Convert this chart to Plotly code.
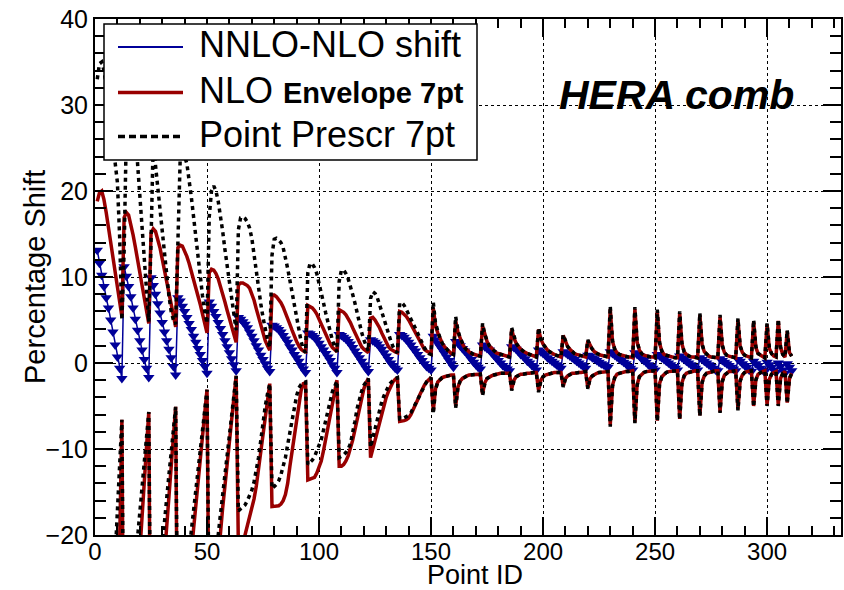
import plotly.graph_objects as go

# ---------------- data ----------------
# NNLO - NLO shift (blue, triangles), one value per point, segments = Q2 bins
nnlo_shift = [
    13.1, 11.6, 10.2, 8.9, 7.6, 6.4, 5.0, 3.6, 2.1, 0.7, -0.6, -1.8,
    11.2, 10.1, 8.9, 7.7, 6.4, 5.1, 3.8, 2.6, 1.5, 0.4, -0.6, -1.7,
    9.9, 9.0, 8.0, 6.9, 5.8, 4.7, 3.6, 2.6, 1.6, 0.6, -0.4, -1.4,
    7.6, 7.2, 6.6, 6.0, 5.3, 4.6, 3.9, 3.1, 2.4, 1.7, 1.0, 0.3, -0.4, -1.2,
    7.1, 6.6, 6.0, 5.4, 4.7, 4.0, 3.3, 2.6, 1.9, 1.2, 0.5, -0.2, -0.9,
    5.3, 5.1, 4.8, 4.5, 4.1, 3.6, 3.1, 2.6, 2.0, 1.5, 0.9, 0.4, -0.1, -0.6, -1.0,
    4.4, 4.3, 4.1, 3.9, 3.6, 3.2, 2.8, 2.4, 1.9, 1.5, 1.0, 0.6, 0.2, -0.3, -0.7, -1.1,
    3.5, 3.4, 3.2, 3.0, 2.7, 2.3, 1.9, 1.5, 1.1, 0.7, 0.3, -0.2, -0.6, -1.1,
    3.3, 3.2, 3.0, 2.8, 2.5, 2.2, 1.8, 1.4, 1.0, 0.6, 0.2, -0.2, -0.6, -1.0,
    2.7, 2.6, 2.4, 2.2, 1.9, 1.6, 1.2, 0.8, 0.4, 0.0, -0.3, -0.6, -0.8,
    3.3, 3.2, 3.0, 2.7, 2.4, 2.1, 1.7, 1.4, 1.0, 0.6, 0.3, -0.1, -0.4, -0.6, -0.8,
    3.1, 2.7, 2.3, 1.9, 1.5, 1.1, 0.7, 0.3, -0.1, -0.5,
    2.5, 2.3, 2.0, 1.7, 1.4, 1.1, 0.8, 0.4, 0.1, -0.2, -0.5, -0.7,
    2.1, 1.9, 1.7, 1.5, 1.2, 0.9, 0.6, 0.3, 0.0, -0.3, -0.5, -0.7, -0.9,
    1.9, 1.8, 1.6, 1.3, 1.0, 0.8, 0.5, 0.2, 0.0, -0.3, -0.5, -0.8,
    1.5, 1.3, 1.1, 0.9, 0.6, 0.4, 0.2, 0.0, -0.2, -0.4, -0.6,
    1.3, 1.2, 1.0, 0.8, 0.6, 0.4, 0.2, 0.0, -0.2, -0.4, -0.6,
    0.9, 0.8, 0.6, 0.5, 0.3, 0.1, -0.1, -0.2, -0.4, -0.5,
    1.3, 1.1, 0.9, 0.7, 0.5, 0.3, 0.1, -0.1, -0.4, -0.6, -0.8,
    1.2, 1.0, 0.8, 0.5, 0.3, 0.1, -0.2, -0.4, -0.6, -0.8,
    1.0, 0.8, 0.6, 0.4, 0.2, 0.0, -0.2, -0.4, -0.6, -0.8,
    0.8, 0.6, 0.4, 0.2, 0.0, -0.2, -0.4, -0.6, -0.8,
    0.6, 0.4, 0.2, 0.0, -0.2, -0.4, -0.6, -0.8, -0.9,
    0.5, 0.3, 0.1, -0.1, -0.3, -0.5, -0.7, -0.9,
    0.4, 0.2, -0.1, -0.3, -0.5, -0.8, -1.0,
    0.2, -0.1, -0.3, -0.6, -0.8, -1.0,
    0.1, -0.2, -0.5, -0.8, -1.1,
    0.0, -0.4, -0.8, -1.2,
    -0.1, -0.5, -0.9,
]

# NLO scale-variation envelope (7pt), upper and lower edges (red)
nlo_env_up = [
    18.8, 19.8, 20.0, 19.0, 17.5, 15.8, 14.0, 12.2, 10.5, 8.8, 7.1, 5.4,
    16.9, 17.5, 17.2, 16.2, 14.9, 13.5, 12.0, 10.5, 9.0, 7.5, 6.0, 4.6,
    15.1, 15.6, 15.3, 14.5, 13.4, 12.1, 10.8, 9.5, 8.1, 6.8, 5.5, 4.2,
    13.4, 13.7, 13.6, 13.1, 12.4, 11.6, 10.7, 9.8, 8.8, 7.8, 6.8, 5.7, 4.6, 3.5,
    10.5, 10.9, 10.8, 10.4, 9.8, 9.0, 8.1, 7.1, 6.1, 5.1, 4.1, 3.2, 2.4,
    9.1, 9.3, 9.3, 9.2, 9.0, 8.7, 8.1, 7.3, 6.3, 5.3, 4.3, 3.4, 2.6, 2.0, 1.5,
    7.9, 7.9, 7.7, 7.4, 7.0, 6.5, 5.9, 5.2, 4.5, 3.8, 3.1, 2.5, 2.0, 1.6, 1.4, 1.3,
    6.7, 6.6, 6.4, 6.1, 5.7, 5.1, 4.5, 3.9, 3.3, 2.7, 2.2, 1.8, 1.5, 1.3,
    6.2, 6.1, 5.9, 5.6, 5.2, 4.7, 4.1, 3.5, 2.9, 2.4, 1.9, 1.6, 1.4, 1.2,
    5.2, 5.3, 5.0, 4.6, 4.1, 3.5, 2.9, 2.4, 1.9, 1.6, 1.4, 1.3, 1.2,
    6.0, 5.9, 5.7, 5.4, 5.0, 4.5, 4.0, 3.4, 2.9, 2.4, 2.0, 1.6, 1.4, 1.2, 1.1,
    6.4, 4.3, 3.5, 2.8, 2.3, 1.9, 1.6, 1.3, 1.1, 1.0,
    4.9, 3.6, 2.8, 2.2, 1.8, 1.5, 1.3, 1.1, 1.0, 0.9, 0.8, 0.8,
    4.3, 3.2, 2.5, 2.0, 1.7, 1.4, 1.2, 1.1, 1.0, 0.9, 0.8, 0.8, 0.7,
    3.9, 2.9, 2.3, 1.9, 1.6, 1.4, 1.2, 1.1, 1.0, 0.9, 0.8, 0.7,
    3.9, 2.8, 2.2, 1.8, 1.5, 1.3, 1.1, 1.0, 0.9, 0.8, 0.7,
    3.2, 2.4, 1.9, 1.6, 1.3, 1.1, 1.0, 0.9, 0.8, 0.7, 0.7,
    2.6, 2.0, 1.6, 1.3, 1.1, 1.0, 0.9, 0.8, 0.7, 0.7,
    6.3, 2.5, 1.6, 1.2, 1.0, 0.9, 0.8, 0.8, 0.7, 0.7, 0.6,
    6.3, 2.4, 1.5, 1.1, 0.9, 0.8, 0.8, 0.7, 0.7, 0.6,
    6.0, 2.3, 1.4, 1.0, 0.9, 0.8, 0.7, 0.7, 0.6, 0.6,
    5.8, 2.2, 1.3, 1.0, 0.8, 0.7, 0.7, 0.6, 0.6,
    5.6, 2.1, 1.3, 1.0, 0.8, 0.7, 0.7, 0.6, 0.6,
    5.4, 2.0, 1.2, 0.9, 0.8, 0.7, 0.6, 0.6,
    5.0, 1.9, 1.2, 0.9, 0.8, 0.7, 0.6,
    4.8, 1.8, 1.1, 0.9, 0.7, 0.6,
    4.5, 1.7, 1.1, 0.8, 0.7,
    4.9, 1.8, 1.0, 0.7,
    3.7, 1.2, 0.8,
]

nlo_env_lo = [
    -46, -43, -40, -37, -34, -32, -30, -28, -26, -24, -21, -6.6,
    -46, -43, -40, -37, -34, -31, -27, -22, -18, -14, -9.8, -5.7,
    -44, -41, -38, -34, -30, -26, -22.5, -19, -15.5, -12, -8.5, -5.1,
    -42, -39, -35, -31.5, -28, -25, -22, -19.3, -16.5, -13.8, -11.1, -8.4, -5.8, -3.1,
    -35, -32, -29, -26, -22, -19.2, -16.8, -14.3, -11.8, -9.3, -6.8, -4.2, -1.5,
    -21.5, -21.5, -21, -20, -19.2, -18.2, -17.2, -15.8, -14.3, -12.3, -10.3, -8.3, -6.3, -4.3, -2.4,
    -16.7, -16.7, -16.7, -16.6, -16.4, -16.0, -15.3, -14.0, -12.0, -10.2, -8.3, -6.5, -4.6, -3.2, -2.4, -2.3,
    -13.6, -13.5, -13.4, -13.3, -12.8, -12.2, -11.4, -10.2, -8.9, -7.6, -6.2, -4.8, -3.5, -2.0,
    -12.0, -12.0, -11.8, -11.4, -10.8, -10.0, -9.0, -7.8, -6.5, -5.2, -4.0, -3.0, -2.3, -1.8,
    -11.0, -10.0, -9.0, -7.9, -6.8, -5.8, -4.8, -4.0, -3.3, -2.7, -2.2, -1.9, -1.7,
    -6.8, -6.8, -6.7, -6.6, -6.4, -6.0, -5.5, -4.9, -4.3, -3.7, -3.1, -2.6, -2.2, -1.9, -1.7,
    -5.6, -3.0, -2.2, -1.9, -1.7, -1.6, -1.5, -1.5, -1.4, -1.4,
    -5.0, -2.8, -2.1, -1.8, -1.6, -1.5, -1.4, -1.4, -1.3, -1.3, -1.3, -1.3,
    -3.6, -2.3, -1.8, -1.6, -1.5, -1.4, -1.3, -1.3, -1.2, -1.2, -1.2, -1.2, -1.2,
    -3.0, -2.0, -1.6, -1.4, -1.3, -1.3, -1.2, -1.2, -1.2, -1.1, -1.1, -1.1,
    -3.2, -2.0, -1.6, -1.4, -1.3, -1.2, -1.2, -1.1, -1.1, -1.1, -1.1,
    -2.7, -1.8, -1.5, -1.3, -1.2, -1.2, -1.1, -1.1, -1.1, -1.0, -1.0,
    -2.9, -1.8, -1.5, -1.3, -1.2, -1.1, -1.1, -1.0, -1.0, -1.0,
    -7.2, -2.6, -1.7, -1.3, -1.2, -1.1, -1.0, -1.0, -1.0, -0.9, -0.9,
    -6.9, -2.5, -1.6, -1.3, -1.1, -1.0, -1.0, -0.9, -0.9, -0.9,
    -6.7, -2.4, -1.6, -1.3, -1.1, -1.0, -1.0, -0.9, -0.9, -0.9,
    -6.5, -2.3, -1.5, -1.2, -1.1, -1.0, -0.9, -0.9, -0.9,
    -6.1, -2.2, -1.5, -1.2, -1.1, -1.0, -0.9, -0.9, -0.9,
    -5.7, -2.1, -1.4, -1.2, -1.0, -1.0, -0.9, -0.9,
    -5.4, -2.0, -1.4, -1.1, -1.0, -0.9, -0.9,
    -5.0, -1.9, -1.3, -1.1, -1.0, -0.9,
    -4.9, -1.9, -1.3, -1.1, -1.0,
    -4.9, -1.8, -1.2, -1.0,
    -4.6, -1.8, -1.2,
]

# Point prescription 7pt, upper and lower edges (black dotted)
pp_up = [
    33.0, 34.8, 35.0, 34.0, 32.3, 30.2, 28.0, 25.8, 23.6, 21.0, 14.7, 5.0,
    13.0, 27.0, 29.5, 29.5, 28.5, 26.5, 23.2, 19.4, 15.4, 11.4, 7.8, 4.8,
    14.0, 26.0, 23.0, 20.4, 17.6, 14.8, 12.3, 9.8, 7.8, 6.0, 5.0, 4.5,
    16.0, 23.5, 24.2, 24.0, 23.2, 21.5, 19.3, 17.0, 14.5, 12.0, 9.8, 7.8, 6.0, 4.6,
    17.0, 20.0, 20.6, 20.0, 18.8, 17.2, 15.3, 13.2, 11.2, 9.2, 7.3, 5.5, 3.8,
    15.5, 16.9, 17.0, 16.8, 16.4, 15.7, 14.5, 12.5, 10.6, 8.7, 6.9, 5.3, 3.9, 2.7, 1.8,
    12.5, 14.4, 14.5, 14.3, 14.0, 13.4, 12.3, 11.0, 9.6, 8.1, 6.6, 5.1, 3.7, 2.5, 1.6, 1.2,
    10.5, 11.6, 11.5, 11.1, 10.4, 9.4, 8.2, 7.0, 5.8, 4.6, 3.5, 2.6, 1.9, 1.3,
    9.5, 10.8, 10.8, 10.4, 9.8, 9.0, 8.0, 7.0, 5.8, 4.7, 3.6, 2.7, 1.9, 1.4,
    7.5, 8.3, 8.1, 7.6, 6.8, 5.9, 5.0, 4.2, 3.4, 2.6, 1.9, 1.4, 1.2,
    7.0, 7.0, 6.7, 6.2, 5.7, 5.2, 4.7, 4.1, 3.5, 2.9, 2.3, 1.8, 1.4, 1.1, 1.0,
    7.1, 4.6, 3.6, 2.9, 2.3, 1.9, 1.6, 1.3, 1.1, 1.0,
    5.4, 3.8, 2.9, 2.3, 1.8, 1.5, 1.3, 1.1, 1.0, 0.9, 0.8, 0.8,
    4.6, 3.3, 2.6, 2.0, 1.7, 1.4, 1.2, 1.1, 1.0, 0.9, 0.8, 0.8, 0.7,
    4.1, 3.0, 2.3, 1.9, 1.6, 1.4, 1.2, 1.1, 1.0, 0.9, 0.8, 0.7,
    4.1, 2.9, 2.2, 1.8, 1.5, 1.3, 1.1, 1.0, 0.9, 0.8, 0.7,
    3.3, 2.5, 1.9, 1.6, 1.3, 1.1, 1.0, 0.9, 0.8, 0.7, 0.7,
    2.7, 2.0, 1.6, 1.3, 1.1, 1.0, 0.9, 0.8, 0.7, 0.7,
    6.6, 2.6, 1.6, 1.2, 1.0, 0.9, 0.8, 0.8, 0.7, 0.7, 0.6,
    6.5, 2.5, 1.5, 1.1, 0.9, 0.8, 0.8, 0.7, 0.7, 0.6,
    6.2, 2.4, 1.4, 1.0, 0.9, 0.8, 0.7, 0.7, 0.6, 0.6,
    6.0, 2.3, 1.3, 1.0, 0.8, 0.7, 0.7, 0.6, 0.6,
    5.8, 2.2, 1.3, 1.0, 0.8, 0.7, 0.7, 0.6, 0.6,
    5.6, 2.1, 1.2, 0.9, 0.8, 0.7, 0.6, 0.6,
    5.2, 2.0, 1.2, 0.9, 0.8, 0.7, 0.6,
    5.0, 1.9, 1.1, 0.9, 0.7, 0.6,
    4.6, 1.8, 1.1, 0.8, 0.7,
    5.1, 1.9, 1.0, 0.7,
    3.8, 1.2, 0.8,
]

pp_lo = [
    -44, -41, -38, -35, -32, -29, -27, -25, -22.5, -17.5, -12, -6.6,
    -40, -37, -34, -30, -27, -23.5, -20.3, -17.5, -14.5, -11.5, -8.6, -5.7,
    -38, -35, -31, -27.5, -24, -21, -18.4, -15.6, -13, -10.4, -7.7, -5.1,
    -36, -33, -30, -27, -24.5, -21.9, -19.5, -17.2, -14.8, -12.5, -10.1, -7.8, -5.4, -3.1,
    -31, -28, -25.5, -22.7, -20, -17.6, -15.2, -12.8, -10.4, -8.1, -5.8, -3.6, -1.5,
    -17.2, -17.0, -16.8, -16.5, -16.0, -15.5, -14.8, -13.8, -12.6, -11.0, -9.0, -6.8, -5.0, -3.6, -2.4,
    -14.6, -14.4, -14.1, -13.7, -13.0, -12.0, -11.0, -9.5, -8.0, -6.5, -5.0, -3.8, -2.9, -2.5, -2.3, -2.2,
    -11.8, -11.6, -11.3, -10.9, -10.3, -9.6, -8.9, -7.8, -6.6, -5.3, -4.2, -3.3, -2.7, -2.1,
    -11.0, -10.9, -10.7, -10.4, -10.0, -9.4, -8.3, -6.8, -5.3, -4.2, -3.3, -2.6, -2.1, -1.8,
    -9.8, -8.7, -7.6, -6.4, -5.3, -4.5, -3.8, -3.2, -2.7, -2.3, -2.0, -1.8, -1.7,
    -6.5, -6.5, -6.4, -6.3, -6.1, -5.8, -5.3, -4.8, -4.2, -3.6, -3.1, -2.6, -2.2, -1.9, -1.7,
    -5.9, -3.1, -2.2, -1.9, -1.7, -1.6, -1.5, -1.5, -1.4, -1.4,
    -5.2, -2.9, -2.1, -1.8, -1.6, -1.5, -1.4, -1.4, -1.3, -1.3, -1.3, -1.3,
    -3.8, -2.4, -1.8, -1.6, -1.5, -1.4, -1.3, -1.3, -1.2, -1.2, -1.2, -1.2, -1.2,
    -3.2, -2.1, -1.6, -1.4, -1.3, -1.3, -1.2, -1.2, -1.2, -1.1, -1.1, -1.1,
    -3.4, -2.1, -1.6, -1.4, -1.3, -1.2, -1.2, -1.1, -1.1, -1.1, -1.1,
    -2.8, -1.8, -1.5, -1.3, -1.2, -1.2, -1.1, -1.1, -1.1, -1.0, -1.0,
    -3.0, -1.8, -1.5, -1.3, -1.2, -1.1, -1.1, -1.0, -1.0, -1.0,
    -7.4, -2.7, -1.7, -1.3, -1.2, -1.1, -1.0, -1.0, -1.0, -0.9, -0.9,
    -7.0, -2.6, -1.6, -1.3, -1.1, -1.0, -1.0, -0.9, -0.9, -0.9,
    -6.8, -2.5, -1.6, -1.3, -1.1, -1.0, -1.0, -0.9, -0.9, -0.9,
    -6.6, -2.4, -1.5, -1.2, -1.1, -1.0, -0.9, -0.9, -0.9,
    -6.2, -2.3, -1.5, -1.2, -1.1, -1.0, -0.9, -0.9, -0.9,
    -5.8, -2.2, -1.4, -1.2, -1.0, -1.0, -0.9, -0.9,
    -5.5, -2.1, -1.4, -1.1, -1.0, -0.9, -0.9,
    -5.1, -2.0, -1.3, -1.1, -1.0, -0.9,
    -5.0, -1.9, -1.3, -1.1, -1.0,
    -5.0, -1.9, -1.2, -1.0,
    -4.7, -1.8, -1.2,
]

x_ticks = [0, 50, 100, 150, 200, 250, 300]
y_ticks = [-20, -10, 0, 10, 20, 30, 40]

legend_names = ["NNLO-NLO shift",
                "NLO <b><span style='font-size:29px'>Envelope 7pt</span></b>",
                "Point Prescr 7pt"]

BLUE = "#000099"
RED = "#990000"
BLACK = "#000000"
FONT = "Liberation Sans, Arial, Helvetica, sans-serif"

W, H = 844, 590
M_L, M_R, M_T, M_B = 95, 3, 19, 55
PW, PH = W - M_L - M_R, H - M_T - M_B


def px_x(px):
    """pixel column -> paper x"""
    return (px - M_L) / PW


def px_y(py):
    """pixel row -> paper y"""
    return (H - M_B - py) / PH


def ids(values):
    return list(range(1, len(values) + 1))


fig = go.Figure()

# data traces
fig.add_trace(go.Scatter(x=ids(nnlo_shift), y=nnlo_shift, mode="lines+markers",
                         name="NNLO-NLO shift",
                         line=dict(color=BLUE, width=1.5),
                         marker=dict(symbol="triangle-down", size=10, color=BLUE)))
for ys in (nlo_env_up, nlo_env_lo):
    fig.add_trace(go.Scatter(x=ids(ys), y=ys, mode="lines", name="NLO Envelope 7pt",
                             line=dict(color=RED, width=3.5)))
for ys in (pp_up, pp_lo):
    fig.add_trace(go.Scatter(x=ids(ys), y=ys, mode="lines", name="Point Prescr 7pt",
                             line=dict(color=BLACK, width=3.5, dash="4px,4px")))

axis_common = dict(
    showline=True, linecolor="black", linewidth=2, mirror="allticks",
    ticks="inside", ticklen=18, tickwidth=1.5, tickcolor="black",
    showgrid=True, gridcolor="black", gridwidth=1, griddash="dot",
    zeroline=False, automargin=False,
)

fig.update_xaxes(range=[0, 333], tickvals=x_ticks, ticklabelstandoff=-6,
                 tickfont=dict(family=FONT, size=24, color="black"),
                 minor=dict(dtick=10, tick0=0, ticks="inside", ticklen=9,
                            tickcolor="black", tickwidth=1.5, showgrid=False),
                 **axis_common)
fig.update_yaxes(range=[-20, 40], tickvals=y_ticks,
                 tickfont=dict(family=FONT, size=25, color="black"),
                 minor=dict(dtick=2, tick0=0, ticks="inside", ticklen=11,
                            tickcolor="black", tickwidth=1.5, showgrid=False),
                 **axis_common)

# axis titles
fig.add_annotation(text="Percentage Shift", xref="paper", yref="paper",
                   x=px_x(35), y=0.5, xanchor="center", yanchor="middle",
                   textangle=-90, showarrow=False,
                   font=dict(family=FONT, size=29, color="black"))
fig.add_annotation(text="Point ID", xref="paper", yref="paper",
                   x=px_x(475), y=px_y(575), xanchor="center", yanchor="middle",
                   showarrow=False, font=dict(family=FONT, size=27, color="black"))

fig.add_annotation(text="<b><i>HERA comb</i></b>", xref="paper", yref="paper",
                   x=px_x(676), y=px_y(95), xanchor="center", yanchor="middle",
                   showarrow=False, font=dict(family=FONT, size=41, color="black"))

# legend box (drawn as a framed panel with line samples and labels)
fig.add_shape(type="rect", xref="paper", yref="paper", layer="above",
              x0=px_x(104), x1=px_x(477), y0=px_y(160), y1=px_y(24),
              fillcolor="white", line=dict(color="black", width=1.5))
legend_rows = [47, 92.5, 136.5]
legend_lines = [dict(color=BLUE, width=2),
                dict(color=RED, width=3.5),
                dict(color=BLACK, width=3.5, dash="7px,4px")]
for row, name, ln in zip(legend_rows, legend_names, legend_lines):
    fig.add_shape(type="line", xref="paper", yref="paper", layer="above",
                  x0=px_x(118), x1=px_x(183), y0=px_y(row), y1=px_y(row), line=ln)
    fig.add_annotation(text=name, xref="paper", yref="paper",
                       x=px_x(197), y=px_y(row - 2), xanchor="left", yanchor="middle",
                       showarrow=False, font=dict(family=FONT, size=36, color="black"))

fig.update_layout(
    width=W, height=H,
    margin=dict(l=M_L, r=M_R, t=M_T, b=M_B, pad=0),
    paper_bgcolor="white", plot_bgcolor="white",
    font=dict(family=FONT, color="black"),
    showlegend=False,
)

fig.write_html("out.html")
